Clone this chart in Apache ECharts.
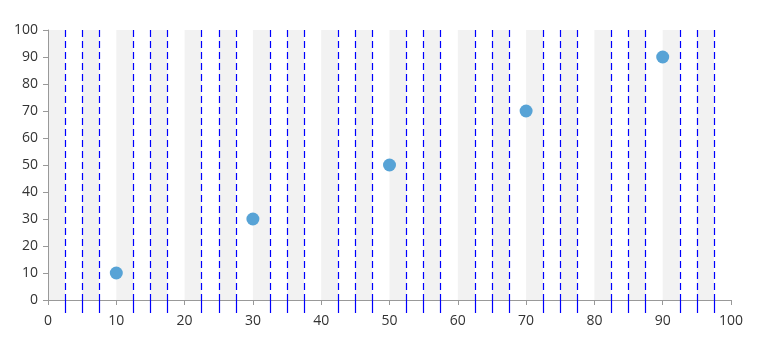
<!DOCTYPE html>
<html>
<head>
<meta charset="utf-8">
<script src="https://cdn.jsdelivr.net/npm/echarts@6/dist/echarts.min.js"></script>
<style>html,body{margin:0;padding:0;background:#fff;}#main{width:768px;height:358px;}</style>
</head>
<body>
<div id="main"></div>
<script>
var xValues = [10, 30, 50, 70, 90];
var yValues = [10, 30, 50, 70, 90];
var axisMin = 0;
var axisMax = 100;
var axisInterval = 10;
var minorSplits = 4;

var chart = echarts.init(document.getElementById('main'), null, {renderer: 'canvas'});
var data = xValues.map(function (x, i) { return [x, yValues[i]]; });
var labelFont = {color: '#333', fontFamily: 'Open Sans', fontSize: 14};
chart.setOption({
  animation: false,
  grid: {left: 48, right: 37, top: 30, bottom: 58, containLabel: false},
  xAxis: [{
    type: 'value', min: axisMin, max: axisMax, interval: axisInterval,
    axisLine: {lineStyle: {color: '#999'}},
    axisTick: {show: true, length: 5, lineStyle: {color: '#999'}},
    axisLabel: Object.assign({margin: 14}, labelFont),
    splitLine: {show: false},
    splitArea: {show: false},
    minorTick: {show: true, splitNumber: minorSplits, length: 13, lineStyle: {color: '#0000ff', width: 1.2}},
    minorSplitLine: {show: true, lineStyle: {color: '#0000ff', width: 1.2, type: [7, 4]}},
    z: 3
  }, {
    type: 'value', min: axisMin, max: axisMax, interval: axisInterval / minorSplits,
    position: 'bottom',
    axisLine: {show: false}, axisTick: {show: false}, axisLabel: {show: false},
    splitLine: {show: false},
    splitArea: {show: true, areaStyle: {color: ['#f2f2f2', 'rgba(255,255,255,0)']}},
    z: 0
  }],
  yAxis: {
    type: 'value', min: axisMin, max: axisMax, interval: axisInterval,
    axisLine: {show: true, lineStyle: {color: '#999'}},
    axisTick: {show: true, length: 5, lineStyle: {color: '#999'}},
    axisLabel: Object.assign({margin: 10}, labelFont),
    splitLine: {show: false}
  },
  series: [{
    type: 'scatter', xAxisIndex: 0, data: data, symbolSize: 13,
    itemStyle: {color: '#57a3d6', opacity: 1}
  }]
});
</script>
</body>
</html>
